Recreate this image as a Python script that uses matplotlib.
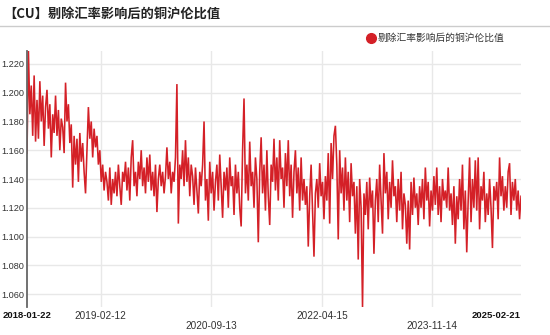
import matplotlib
matplotlib.use("Agg")
import matplotlib.pyplot as plt
import pandas as pd
from matplotlib.lines import Line2D

title = "【CU】剔除汇率影响后的铜沪伦比值"
series_name = "剔除汇率影响后的铜沪伦比值"
start_date = "2018-01-22"
end_date = "2025-02-21"
tick_dates = ["2018-01-22", "2019-02-12", "2020-09-13", "2022-04-15", "2023-11-14", "2025-02-21"]
y_ticks = [1.060, 1.080, 1.100, 1.120, 1.140, 1.160, 1.180, 1.200, 1.220]

seg1 = [1.158, 1.229, 1.185, 1.205, 1.170, 1.212, 1.166,
        1.195, 1.168, 1.208, 1.180, 1.198, 1.163, 1.190,
        1.202, 1.175, 1.192, 1.155, 1.185, 1.172, 1.198,
        1.170, 1.188, 1.160, 1.182, 1.176, 1.158, 1.207,
        1.180, 1.192, 1.165, 1.178, 1.134, 1.170, 1.150,
        1.168, 1.138, 1.172, 1.152, 1.165, 1.145, 1.130,
        1.160, 1.190, 1.168, 1.180, 1.155, 1.175, 1.162]
seg2 = [1.170, 1.150, 1.160, 1.138, 1.150, 1.132, 1.145,
        1.138, 1.125, 1.148, 1.122, 1.140, 1.130, 1.145,
        1.128, 1.150, 1.135, 1.122, 1.145, 1.138, 1.152,
        1.132, 1.148, 1.125, 1.155, 1.167, 1.135, 1.145,
        1.128, 1.152, 1.140, 1.160, 1.135, 1.148, 1.130,
        1.155, 1.138, 1.157, 1.132, 1.145, 1.128, 1.150,
        1.117, 1.140, 1.150, 1.135, 1.145, 1.130, 1.142]
seg3 = [1.162, 1.140, 1.152, 1.130, 1.145, 1.138, 1.155,
        1.206, 1.109, 1.150, 1.140, 1.160, 1.135, 1.167,
        1.138, 1.155, 1.128, 1.150, 1.142, 1.122, 1.148,
        1.132, 1.116, 1.145, 1.135, 1.150, 1.180, 1.125,
        1.140, 1.111, 1.152, 1.130, 1.145, 1.118, 1.138,
        1.150, 1.125, 1.157, 1.135, 1.113, 1.145, 1.132,
        1.148, 1.120, 1.155, 1.135, 1.142, 1.115, 1.150]
seg4 = [1.130, 1.145, 1.120, 1.107, 1.160, 1.196, 1.130,
        1.150, 1.125, 1.166, 1.135, 1.145, 1.120, 1.155,
        1.140, 1.096, 1.145, 1.169, 1.130, 1.150, 1.118,
        1.160, 1.128, 1.108, 1.150, 1.138, 1.168, 1.132,
        1.155, 1.125, 1.167, 1.140, 1.148, 1.120, 1.158,
        1.135, 1.167, 1.128, 1.150, 1.113, 1.145, 1.160,
        1.130, 1.148, 1.118, 1.155, 1.125, 1.140, 1.122]
seg5 = [1.135, 1.093, 1.128, 1.150, 1.118, 1.086, 1.130,
        1.140, 1.120, 1.151, 1.128, 1.138, 1.112, 1.142,
        1.125, 1.158, 1.109, 1.165, 1.140, 1.170, 1.177,
        1.150, 1.098, 1.160, 1.130, 1.148, 1.118, 1.155,
        1.125, 1.145, 1.110, 1.151, 1.128, 1.138, 1.102,
        1.135, 1.084, 1.140, 1.120, 1.051, 1.130, 1.115,
        1.138, 1.105, 1.141, 1.120, 1.132, 1.088, 1.125]
seg6 = [1.140, 1.110, 1.150, 1.125, 1.102, 1.158, 1.130,
        1.145, 1.112, 1.138, 1.120, 1.153, 1.128, 1.135,
        1.110, 1.140, 1.118, 1.145, 1.105, 1.130, 1.122,
        1.095, 1.125, 1.091, 1.138, 1.115, 1.141, 1.120,
        1.130, 1.108, 1.135, 1.120, 1.140, 1.112, 1.148,
        1.125, 1.138, 1.107, 1.132, 1.118, 1.142, 1.122,
        1.148, 1.115, 1.135, 1.110, 1.140, 1.125, 1.132]
seg7 = [1.120, 1.148, 1.118, 1.130, 1.108, 1.135, 1.095,
        1.128, 1.112, 1.140, 1.118, 1.150, 1.105, 1.132,
        1.089, 1.125, 1.155, 1.110, 1.140, 1.120, 1.153,
        1.118, 1.155, 1.105, 1.135, 1.125, 1.145, 1.110,
        1.130, 1.115, 1.140, 1.120, 1.092, 1.135, 1.125,
        1.138, 1.112, 1.155, 1.128, 1.142, 1.118, 1.135,
        1.120, 1.145, 1.151, 1.115, 1.138, 1.125, 1.140,
        1.118, 1.132, 1.112, 1.128]

values = seg1 + seg2 + seg3 + seg4 + seg5 + seg6 + seg7
dates = pd.date_range(start=start_date, end=end_date, periods=len(values))

RED = "#d42027"
W, H = 550, 335
fig = plt.figure(figsize=(W / 100, H / 100), dpi=100)
ax = fig.add_axes([27 / W, 1 - 307 / H, (521 - 27) / W, (307 - 51) / H])

ax.plot(dates, values, color=RED, lw=1.15, solid_joinstyle="miter")
ax.set_xlim(pd.Timestamp(start_date), pd.Timestamp(end_date))
ax.set_ylim(min(values), max(values))

for t in tick_dates[1:-1]:
    ax.axvline(pd.Timestamp(t), color="#e8e8e8", lw=1, zorder=0)
for yv in y_ticks:
    ax.axhline(yv, color="#e8e8e8", lw=1, zorder=0)

ax.set_yticks(y_ticks)
ax.set_yticklabels([f"{v:.3f}" for v in y_ticks], fontsize=6.6,
                   family="Liberation Sans", color="#333333")
ax.tick_params(axis="y", length=0, pad=2)
ax.set_xticks([])
for s in ["top", "right", "bottom"]:
    ax.spines[s].set_visible(False)
ax.spines["left"].set_color("#666666")
ax.spines["left"].set_linewidth(1.3)

# x tick labels (staggered)
for i, t in enumerate(tick_dates):
    ts = pd.Timestamp(t)
    if i == 0:
        ax.text(ts, -0.035, t, transform=ax.get_xaxis_transform(), ha="center", va="center",
                fontsize=6.8, fontweight="bold", family="Liberation Sans", color="#111111")
    elif i == len(tick_dates) - 1:
        ax.text(ts, -0.035, t, transform=ax.get_xaxis_transform(), ha="right", va="center",
                fontsize=6.8, fontweight="bold", family="Liberation Sans", color="#111111")
    else:
        yoff = -0.035 if i % 2 == 1 else -0.074
        ax.text(ts, yoff, t, transform=ax.get_xaxis_transform(), ha="center", va="center",
                fontsize=7.2, family="Liberation Sans", color="#333333")

# title and separator
fig.text(3 / W, 1 - 14 / H, title, fontsize=9.5, fontweight="bold",
         family=["Noto Sans CJK SC", "DejaVu Sans"], color="#222222", va="center", ha="left")
fig.add_artist(Line2D([0, 1], [1 - 26 / H, 1 - 26 / H], transform=fig.transFigure,
                      color="#cccccc", lw=1))

# legend
fig.add_artist(Line2D([371 / W], [1 - 38 / H], transform=fig.transFigure, marker="o",
                      markersize=7, color=RED, ls=""))
fig.text(378 / W, 1 - 38 / H, series_name, fontsize=7, family=["Noto Sans CJK SC", "DejaVu Sans"],
         color="#333333", va="center", ha="left")

fig.savefig("out.png", dpi=100)
